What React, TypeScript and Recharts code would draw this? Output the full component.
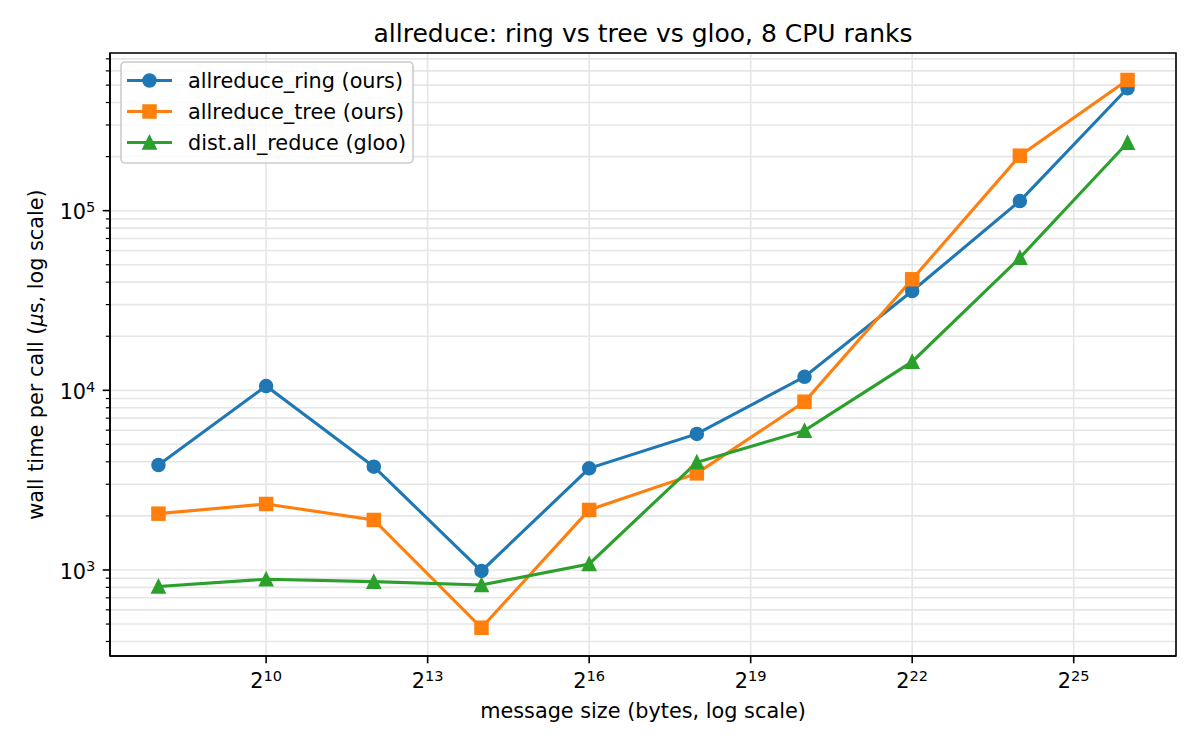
import { LineChart, Line, XAxis, YAxis, CartesianGrid, Legend, ReferenceArea } from 'recharts'

// message sizes (bytes) and wall time per call (µs)
const sizeBytes = [256, 1024, 4096, 16384, 65536, 262144, 1048576, 4194304, 16777216, 67108864]
const ringUs = [3840, 10570, 3760, 987, 3680, 5720, 11900, 35700, 113200, 480000]
const treeUs = [2058, 2330, 1898, 477, 2158, 3450, 8640, 41500, 202300, 534000]
const glooUs = [809, 888, 861, 825, 1080, 3977, 5963, 14440, 54700, 239000]

const xTicks = [1024, 8192, 65536, 524288, 4194304, 33554432]
const xTickExp = ['10', '13', '16', '19', '22', '25']
const yMajorTicks = [1000, 10000, 100000]
const yMajorExp = ['3', '4', '5']
const yMinorTicks = [
  400, 500, 600, 700, 800, 900,
  2000, 3000, 4000, 5000, 6000, 7000, 8000, 9000,
  20000, 30000, 40000, 50000, 60000, 70000, 80000, 90000,
  200000, 300000, 400000, 500000, 600000, 700000,
]

const seriesNames = ['allreduce_ring (ours)', 'allreduce_tree (ours)', 'dist.all_reduce (gloo)']
const seriesKeys = ['ring', 'tree', 'gloo']
const seriesColors = ['#1f77b4', '#ff7f0e', '#2ca02c']
const seriesShapes = ['circle', 'square', 'triangle']

const data = sizeBytes.map((b, i) => ({
  bytes: b,
  ring: ringUs[i],
  tree: treeUs[i],
  gloo: glooUs[i],
}))

const X_DOMAIN = [2 ** 7.1, 2 ** 26.9]
const Y_DOMAIN = [332, 754600]

const FONT = '"DejaVu Sans", sans-serif'
const TICK_FS = 20.8
const SUP_FS = 14.6

function Marker({ shape, cx, cy, color }: { shape: string; cx: number; cy: number; color: string }) {
  const s = 6.25
  if (shape === 'square') {
    return <rect x={cx - s} y={cy - s} width={2 * s} height={2 * s} fill={color} stroke={color} strokeWidth={2} />
  }
  if (shape === 'triangle') {
    const pts = `${cx},${cy - s} ${cx - s},${cy + s} ${cx + s},${cy + s}`
    return <polygon points={pts} fill={color} stroke={color} strokeWidth={2} strokeLinejoin="miter" />
  }
  return <circle cx={cx} cy={cy} r={s} fill={color} stroke={color} strokeWidth={2} />
}

function XTick(props: any) {
  const { x, y, payload } = props
  const i = xTicks.indexOf(payload.value)
  return (
    <g>
      <line x1={x} x2={x} y1={y} y2={y + 7.3} stroke="#000" strokeWidth={1.6} />
      <text x={x} y={y + 32.3} textAnchor="middle" fontSize={TICK_FS} fontFamily={FONT} fill="#000">
        2<tspan dy={-7.3} fontSize={SUP_FS}>{xTickExp[i]}</tspan>
      </text>
    </g>
  )
}

function YTick(props: any) {
  const { x, y, payload } = props
  const i = yMajorTicks.indexOf(payload.value)
  if (i < 0) {
    return <line x1={x} x2={x - 4.2} y1={y} y2={y} stroke="#000" strokeWidth={1.2} />
  }
  return (
    <g>
      <line x1={x} x2={x - 7.3} y1={y} y2={y} stroke="#000" strokeWidth={1.6} />
      <text x={x - 14.6} y={y + 8.6} textAnchor="end" fontSize={TICK_FS} fontFamily={FONT} fill="#000">
        10<tspan dy={-7.3} fontSize={SUP_FS}>{yMajorExp[i]}</tspan>
      </text>
    </g>
  )
}

function LegendBox() {
  return (
    <svg width={294} height={104} style={{ display: 'block', fontFamily: FONT }}>
      <rect x={1} y={1} width={292} height={101} rx={4} fill="#fff" fillOpacity={0.8} stroke="#cccccc" strokeWidth={1.6} />
      {seriesNames.map((name, i) => {
        const cy = 19.5 + i * 31
        return (
          <g key={name}>
            <line x1={7} x2={52} y1={cy} y2={cy} stroke={seriesColors[i]} strokeWidth={3.1} />
            <Marker shape={seriesShapes[i]} cx={29.5} cy={cy} color={seriesColors[i]} />
            <text x={68} y={cy + 7.5} fontSize={TICK_FS} fill="#000">{name}</text>
          </g>
        )
      })}
    </svg>
  )
}

export default function App() {
  return (
    <div style={{ position: 'absolute', left: 0, top: 0, width: 1200, height: 750, background: '#fff' }}>
      <LineChart width={1200} height={750} data={data} margin={{ top: 53, right: 24, bottom: 0, left: 0 }}>
        <CartesianGrid stroke="#e6e6e6" strokeWidth={1.6} />
        <XAxis
          dataKey="bytes"
          type="number"
          scale="log"
          domain={X_DOMAIN}
          allowDataOverflow
          ticks={xTicks}
          interval={0}
          height={94}
          tickSize={0}
          tickMargin={0}
          tickLine={false}
          tick={<XTick />}
          axisLine={{ stroke: '#000', strokeWidth: 1.6 }}
          label={(p: any) => {
            const vb = p.viewBox
            return (
              <text x={vb.x + vb.width / 2} y={vb.y + 62} textAnchor="middle" fontSize={TICK_FS} fontFamily={FONT} fill="#000">
                message size (bytes, log scale)
              </text>
            )
          }}
        />
        <YAxis
          type="number"
          scale="log"
          domain={Y_DOMAIN}
          allowDataOverflow
          ticks={[...yMinorTicks, ...yMajorTicks].sort((a, b) => a - b)}
          interval={0}
          width={110}
          tickSize={0}
          tickMargin={0}
          tickLine={false}
          tick={<YTick />}
          axisLine={{ stroke: '#000', strokeWidth: 1.6 }}
          label={(p: any) => {
            const vb = p.viewBox
            const cy = vb.y + vb.height / 2
            return (
              <text x={43} y={cy} transform={`rotate(-90 43 ${cy})`} textAnchor="middle" fontSize={TICK_FS} fontFamily={FONT} fill="#000">
                wall time per call (<tspan fontStyle="italic">μ</tspan>s, log scale)
              </text>
            )
          }}
        />
        <Legend
          layout="vertical"
          align="center"
          verticalAlign="middle"
          wrapperStyle={{ left: 120, top: 61, width: 'auto', height: 'auto' }}
          content={() => <LegendBox />}
        />
        {seriesKeys.map((k, i) => (
          <Line
            key={k}
            type="linear"
            dataKey={k}
            name={seriesNames[i]}
            stroke={seriesColors[i]}
            strokeWidth={3.1}
            isAnimationActive={false}
            activeDot={false}
            dot={(p: any) => (
              <Marker key={`${k}-${p.index}`} shape={seriesShapes[i]} cx={p.cx} cy={p.cy} color={seriesColors[i]} />
            )}
          />
        ))}
        {/* axes frame (top/right spines) and title */}
        <ReferenceArea
          x1={X_DOMAIN[0]}
          x2={X_DOMAIN[1]}
          y1={Y_DOMAIN[0]}
          y2={Y_DOMAIN[1]}
          fill="none"
          fillOpacity={0}
          stroke="#000"
          strokeWidth={1.6}
          ifOverflow="visible"
          label={(p: any) => {
            const vb = p.viewBox
            return (
              <text x={vb.x + vb.width / 2} y={vb.y - 11.3} textAnchor="middle" fontSize={25} fontFamily={FONT} fill="#000">
                allreduce: ring vs tree vs gloo, 8 CPU ranks
              </text>
            )
          }}
        />
      </LineChart>
    </div>
  )
}
